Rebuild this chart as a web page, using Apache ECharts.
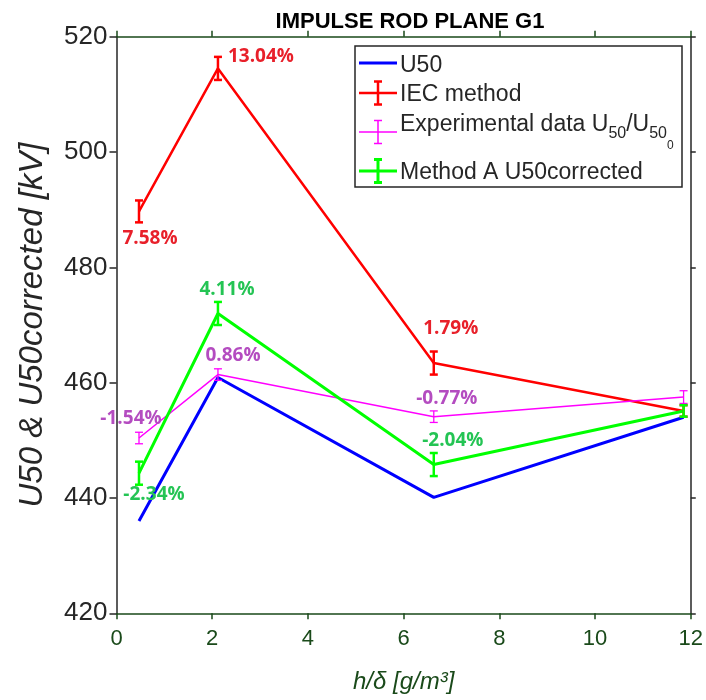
<!DOCTYPE html>
<html>
<head>
<meta charset="utf-8">
<script src="https://cdn.jsdelivr.net/npm/echarts@6/dist/echarts.min.js"></script>
<style>
  html, body { margin: 0; padding: 0; background: #ffffff; }
  #chart { width: 706px; height: 700px; }
</style>
</head>
<body>
<div id="chart"></div>
<script>
// h/delta values of the four test conditions
const xValues = [0.47, 2.12, 6.63, 11.85];

// U50 measured [kV]
const u50 = [436.0, 460.9, 440.1, 454.0];

// IEC method correction [kV] with error bars
const iec = [489.7, 514.5, 463.4, 455.1];
const iecErr = [1.9, 2.0, 2.0, 1.0];
const iecLabels = ['7.58%', '13.04%', '1.79%', ''];

// Experimental data U50/U50_0 [kV] with error bars
const expData = [450.4, 461.4, 454.1, 457.5];
const expErr = [1.0, 1.0, 1.0, 1.1];
const expLabels = ['-1.54%', '0.86%', '-0.77%', ''];

// Method A U50corrected [kV] with error bars
const methodA = [444.3, 472.0, 445.8, 455.1];
const methodAErr = [2.0, 2.0, 2.0, 1.0];
const methodALabels = ['-2.34%', '4.11%', '-2.04%', ''];

// axis ticks
const xTicks = { min: 0, max: 12, interval: 2 };
const yTicks = { min: 420, max: 520, interval: 20 };

const AXIS_DARK = '#262626';
const AXIS_GREEN = '#1a4a1a';
const LABEL_FONT = 'bold 19px "Open Sans"';

// pixel offsets of percentage labels from their points
const iecLabelOffsets = [[11, 27], [43, -12], [17, -34], [0, 0]];
const expLabelOffsets = [[-8, -19], [15, -19], [13, -18], [0, 0]];
const methodALabelOffsets = [[15, 21], [9, -24], [19, -24], [0, 0]];

function lineSeries(name, values, color, width) {
  return {
    type: 'line',
    name: name,
    data: values.map((v, i) => [xValues[i], v]),
    symbol: 'none',
    lineStyle: { color: color, width: width },
    itemStyle: { color: color },
    z: 3,
    animation: false
  };
}

function errorBarSeries(name, values, errs, labels, offsets, color, width, labelColor) {
  return {
    type: 'custom',
    name: name + ' error',
    clip: false,
    z: 4,
    animation: false,
    data: values.map((v, i) => [xValues[i], v, errs[i]]),
    encode: { x: 0, y: 1 },
    renderItem: function (params, api) {
      const x = api.value(0), y = api.value(1), e = api.value(2);
      const top = api.coord([x, y + e]);
      const bot = api.coord([x, y - e]);
      const c = api.coord([x, y]);
      const cap = 4;
      const style = { stroke: color, lineWidth: width };
      const children = [
        { type: 'line', shape: { x1: top[0], y1: top[1], x2: bot[0], y2: bot[1] }, style: style },
        { type: 'line', shape: { x1: top[0] - cap, y1: top[1], x2: top[0] + cap, y2: top[1] }, style: style },
        { type: 'line', shape: { x1: bot[0] - cap, y1: bot[1], x2: bot[0] + cap, y2: bot[1] }, style: style }
      ];
      const text = labels[params.dataIndex];
      if (text) {
        const off = offsets[params.dataIndex];
        children.push({
          type: 'text',
          x: c[0] + off[0],
          y: c[1] + off[1],
          z2: 10,
          style: { text: text, fill: labelColor, font: LABEL_FONT, align: 'center', verticalAlign: 'middle' }
        });
      }
      return { type: 'group', children: children };
    }
  };
}

// legend drawn as a boxed key with error-bar glyphs
const measureCtx = document.createElement('canvas').getContext('2d');
function textWidth(str, font) {
  measureCtx.font = font;
  return measureCtx.measureText(str).width;
}

const LEG_FONT = '23px "Liberation Sans"';
const LEG_SUB = '16px "Liberation Sans"';
const LEG_SUBSUB = '12px "Liberation Sans"';
const legX = 355, legY = 46, legW = 327, legH = 141;
const sampleX1 = 359, sampleX2 = 397, textX = 400;

function legendSample(y, color, width, bar) {
  const els = [{
    type: 'line', shape: { x1: sampleX1, y1: y, x2: sampleX2, y2: y },
    style: { stroke: color, lineWidth: width }
  }];
  if (bar) {
    const cx = (sampleX1 + sampleX2) / 2, h = 11.5, cap = 4;
    els.push({ type: 'line', shape: { x1: cx, y1: y - h, x2: cx, y2: y + h }, style: { stroke: color, lineWidth: width } });
    els.push({ type: 'line', shape: { x1: cx - cap, y1: y - h, x2: cx + cap, y2: y - h }, style: { stroke: color, lineWidth: width } });
    els.push({ type: 'line', shape: { x1: cx - cap, y1: y + h, x2: cx + cap, y2: y + h }, style: { stroke: color, lineWidth: width } });
  }
  return els;
}

function legendText(str, x, yMid, font) {
  return {
    type: 'text', x: x, y: yMid,
    style: { text: str, font: font, fill: AXIS_DARK, align: 'left', verticalAlign: 'middle' }
  };
}

const legendEls = [];
legendEls.push({
  type: 'rect', shape: { x: legX, y: legY, width: legW, height: legH },
  style: { fill: '#ffffff', stroke: AXIS_DARK, lineWidth: 1.5 }
});
legendEls.push(...legendSample(63, '#0000ff', 3, false));
legendEls.push(legendText('U50', textX, 66, LEG_FONT));
legendEls.push(...legendSample(93, '#ff0000', 2.5, true));
legendEls.push(legendText('IEC method', textX, 94.5, LEG_FONT));
legendEls.push(...legendSample(132, '#ff00ff', 1.5, true));
(function () {
  let x = textX;
  const parts = [
    ['Experimental data U', LEG_FONT, 125],
    ['50', LEG_SUB, 134],
    ['/U', LEG_FONT, 125],
    ['50', LEG_SUB, 134],
    ['0', LEG_SUBSUB, 146]
  ];
  parts.forEach(function (p) {
    legendEls.push(legendText(p[0], x, p[2], p[1]));
    x += textWidth(p[0], p[1]);
  });
})();
legendEls.push(...legendSample(171, '#00ff00', 3, true));
legendEls.push(legendText('Method A U50corrected', textX, 172.5, LEG_FONT));

const chart = echarts.init(document.getElementById('chart'), null, { renderer: 'canvas' });

const option = {
  animation: false,
  backgroundColor: '#ffffff',
  title: {
    text: 'IMPULSE ROD PLANE G1',
    left: 405, top: 6,
    textAlign: 'center',
    textStyle: { fontFamily: 'Liberation Sans', fontWeight: 'bold', fontSize: 22, color: '#000000' }
  },
  grid: { left: 116.5, right: 12.7, top: 36.7, bottom: 86.7, containLabel: false },
  xAxis: [
    {
      type: 'value', position: 'bottom',
      min: xTicks.min, max: xTicks.max, interval: xTicks.interval,
      name: 'h/δ [g/m³]', nameLocation: 'middle', nameGap: 57,
      nameTextStyle: { fontFamily: 'Liberation Sans', fontStyle: 'italic', fontSize: 24, color: AXIS_GREEN },
      axisLine: { show: true, onZero: false, lineStyle: { color: AXIS_GREEN, width: 1.5 } },
      axisTick: { show: true, inside: false, length: 6, lineStyle: { color: AXIS_GREEN, width: 1.5 } },
      axisLabel: { show: true, margin: 15, fontFamily: 'Liberation Sans', fontSize: 22, color: AXIS_GREEN },
      splitLine: { show: false }
    },
    {
      type: 'value', position: 'top',
      min: xTicks.min, max: xTicks.max, interval: xTicks.interval,
      axisLine: { show: true, onZero: false, lineStyle: { color: AXIS_GREEN, width: 1.5 } },
      axisTick: { show: true, inside: false, length: 6, lineStyle: { color: AXIS_GREEN, width: 1.5 } },
      axisLabel: { show: false },
      splitLine: { show: false }
    }
  ],
  yAxis: [
    {
      type: 'value', position: 'left',
      min: yTicks.min, max: yTicks.max, interval: yTicks.interval,
      name: 'U50 & U50corrected [kV]', nameLocation: 'middle', nameGap: 67,
      nameTextStyle: { fontFamily: 'Liberation Sans', fontStyle: 'italic', fontSize: 33, color: AXIS_DARK },
      axisLine: { show: true, onZero: false, lineStyle: { color: AXIS_DARK, width: 1.5 } },
      axisTick: { show: true, inside: false, length: 7, lineStyle: { color: AXIS_DARK, width: 1.5 } },
      axisLabel: { show: true, margin: 9, fontFamily: 'Liberation Sans', fontSize: 26, color: AXIS_DARK },
      splitLine: { show: false }
    },
    {
      type: 'value', position: 'right',
      min: yTicks.min, max: yTicks.max, interval: yTicks.interval,
      axisLine: { show: true, onZero: false, lineStyle: { color: AXIS_DARK, width: 1.5 } },
      axisTick: { show: true, inside: false, length: 5, lineStyle: { color: AXIS_DARK, width: 1.5 } },
      axisLabel: { show: false },
      splitLine: { show: false }
    }
  ],
  series: [
    lineSeries('U50', u50, '#0000ff', 3),
    lineSeries('IEC method', iec, '#ff0000', 2.5),
    errorBarSeries('IEC method', iec, iecErr, iecLabels, iecLabelOffsets, '#ff0000', 2.5, '#e8202a'),
    lineSeries('Experimental data', expData, '#ff00ff', 1.5),
    errorBarSeries('Experimental data', expData, expErr, expLabels, expLabelOffsets, '#ff00ff', 1.3, '#b44cc0'),
    lineSeries('Method A U50corrected', methodA, '#00ff00', 3),
    errorBarSeries('Method A U50corrected', methodA, methodAErr, methodALabels, methodALabelOffsets, '#00ff00', 2.5, '#24c454')
  ],
  graphic: { elements: [{ type: 'group', z: 100, children: legendEls }] }
};

chart.setOption(option);
</script>
</body>
</html>
